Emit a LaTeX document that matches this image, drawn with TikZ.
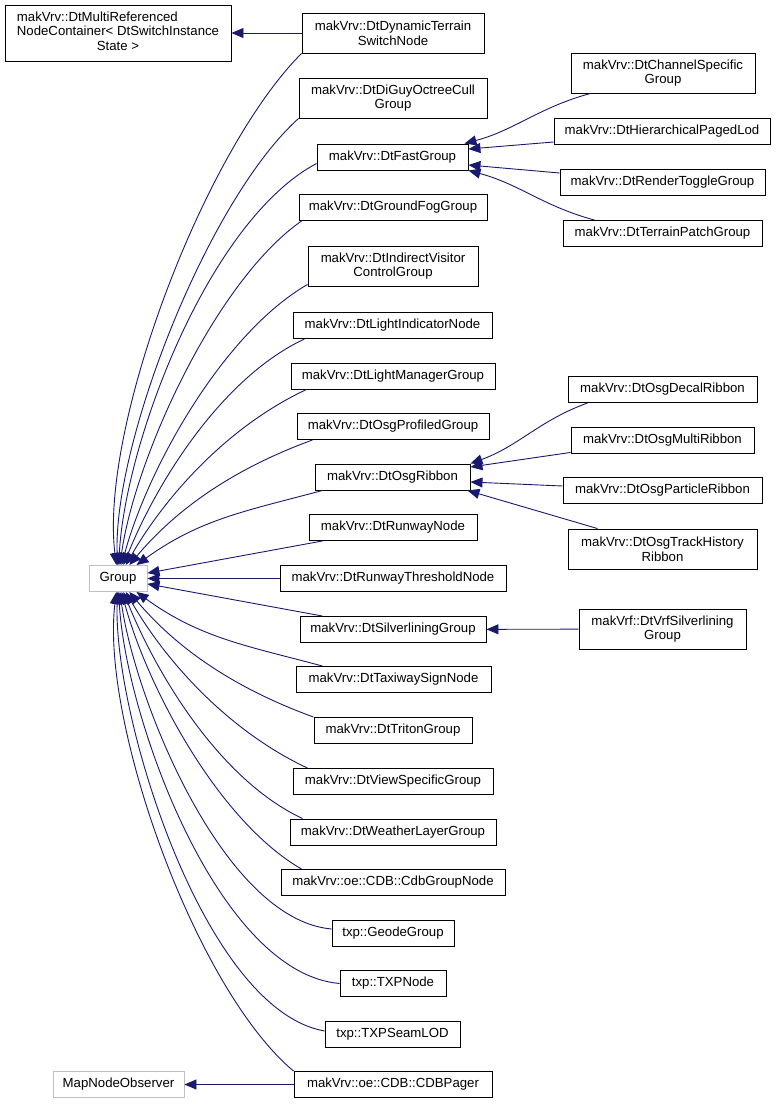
\documentclass[tikz,border=0pt]{standalone}
\usepackage{fontspec}
\newfontfamily\dxsans{Liberation Sans}
\usetikzlibrary{arrows.meta}
\definecolor{edgeblue}{HTML}{191970}
\definecolor{extgray}{HTML}{BFBFBF}
\tikzset{
    my-class/.style={
        draw=black, fill=white, line width=0.9pt, minimum height=26pt,
        inner sep=0pt, align=center, font={\dxsans\fontsize{13.2}{14.8}\selectfont}
    },
    my-class-2/.style={
        my-class, minimum height=40pt
    },
    my-extern/.style={
        my-class, draw=extgray
    },
    my-inherit/.style={
        draw=edgeblue, line width=0.9pt, -{Triangle[length=12pt, width=10pt]}
    },
}

\begin{document}
\begin{tikzpicture}[x=1pt, y=1pt]

        \useasboundingbox (0,0) rectangle (776,-1104);

        % BASE CLASSES
        \node[my-class, minimum width=226pt, minimum height=56pt] (MULTIREF) at (118,-33)
            {\begin{tabular}{@{}l@{}}makVrv::DtMultiReferenced\\NodeContainer< DtSwitchInstance\\\multicolumn{1}{@{}c@{}}{State >}\end{tabular}};
        \node[my-extern, minimum width=58pt]  (GROUP)   at (118,-578.5)  {Group};
        \node[my-extern, minimum width=131pt] (MAPNODE) at (118.5,-1084.5) {MapNodeObserver};

        % MIDDLE COLUMN
        \node[my-class-2, minimum width=182pt] (DYNTERRAIN)   at (393,-33)     {makVrv::DtDynamicTerrain\\SwitchNode};
        \node[my-class-2, minimum width=188pt] (DIGUY)        at (393,-98)     {makVrv::DtDiGuyOctreeCull\\Group};
        \node[my-class,   minimum width=151pt] (FASTGROUP)    at (392.5,-157)  {makVrv::DtFastGroup};
        \node[my-class,   minimum width=188pt] (GROUNDFOG)    at (393,-207.5)  {makVrv::DtGroundFogGroup};
        \node[my-class-2, minimum width=170pt] (INDIRECT)     at (393,-266)    {makVrv::DtIndirectVisitor\\ControlGroup};
        \node[my-class,   minimum width=199pt] (LIGHTIND)     at (392.5,-325.5){makVrv::DtLightIndicatorNode};
        \node[my-class,   minimum width=204pt] (LIGHTMGR)     at (393,-376)    {makVrv::DtLightManagerGroup};
        \node[my-class,   minimum width=192pt] (PROFILED)     at (393,-426.5)  {makVrv::DtOsgProfiledGroup};
        \node[my-class,   minimum width=155pt] (OSGRIBBON)    at (392.5,-477)  {makVrv::DtOsgRibbon};
        \node[my-class,   minimum width=168pt] (RUNWAY)       at (393,-527.5)  {makVrv::DtRunwayNode};
        \node[my-class,   minimum width=226pt] (THRESHOLD)    at (393,-578.5)  {makVrv::DtRunwayThresholdNode};
        \node[my-class,   minimum width=186pt] (SILVERLINING) at (393,-629.5)  {makVrv::DtSilverliningGroup};
        \node[my-class,   minimum width=195pt] (TAXIWAY)      at (393.5,-679.5){makVrv::DtTaxiwaySignNode};
        \node[my-class,   minimum width=158pt] (TRITON)       at (393,-730.5)  {makVrv::DtTritonGroup};
        \node[my-class,   minimum width=200pt] (VIEWSPEC)     at (393,-781.5)  {makVrv::DtViewSpecificGroup};
        \node[my-class,   minimum width=206pt] (WEATHER)      at (393,-832)    {makVrv::DtWeatherLayerGroup};
        \node[my-class,   minimum width=224pt] (CDBGROUP)     at (393,-882.5)  {makVrv::oe::CDB::CdbGroupNode};
        \node[my-class,   minimum width=122pt] (GEODE)        at (393,-933)    {txp::GeodeGroup};
        \node[my-class,   minimum width=106pt] (TXPNODE)      at (393,-983.5)  {txp::TXPNode};
        \node[my-class,   minimum width=135pt] (SEAMLOD)      at (392.5,-1034) {txp::TXPSeamLOD};
        \node[my-class,   minimum width=198pt] (CDBPAGER)     at (393,-1084.5) {makVrv::oe::CDB::CDBPager};

        % RIGHT COLUMN
        \node[my-class-2, minimum width=184pt] (CHANNEL)   at (663,-73)      {makVrv::DtChannelSpecific\\Group};
        \node[my-class,   minimum width=216pt] (HIER)      at (662,-131.5)   {makVrv::DtHierarchicalPagedLod};
        \node[my-class,   minimum width=205pt] (RENDER)    at (662.5,-182.5) {makVrv::DtRenderToggleGroup};
        \node[my-class,   minimum width=199pt] (TERRAIN)   at (662.5,-233.5) {makVrv::DtTerrainPatchGroup};
        \node[my-class,   minimum width=189pt] (DECAL)     at (662.5,-389.5) {makVrv::DtOsgDecalRibbon};
        \node[my-class,   minimum width=183pt] (MULTI)     at (662.5,-440)   {makVrv::DtOsgMultiRibbon};
        \node[my-class,   minimum width=199pt] (PARTICLE)  at (662.5,-490.5) {makVrv::DtOsgParticleRibbon};
        \node[my-class-2, minimum width=189pt] (TRACK)     at (662.5,-549)   {makVrv::DtOsgTrackHistory\\Ribbon};
        \node[my-class-2, minimum width=167pt] (VRFSILVER) at (662.5,-629)   {makVrf::DtVrfSilverlining\\Group};

        % STRAIGHT INHERITANCE
        \draw[my-inherit] (DYNTERRAIN) -- (MULTIREF);
        \draw[my-inherit] (CDBPAGER)   -- (MAPNODE);
        \draw[my-inherit] (VRFSILVER)  -- (SILVERLINING);

        % CHILDREN OF FASTGROUP
        \draw[my-inherit] ([xshift=20pt]CHANNEL.south west) to[out=195, in=15] ([xshift=-4pt]FASTGROUP.north east);
        \draw[my-inherit] ([yshift=-10.5pt]HIER.west)  -- ([yshift=8pt]FASTGROUP.east);
        \draw[my-inherit] ([yshift=9.5pt]RENDER.west)  -- ([yshift=-8pt]FASTGROUP.east);
        \draw[my-inherit] ([xshift=32pt]TERRAIN.north west) to[out=165, in=-15] (FASTGROUP.south east);

        % CHILDREN OF OSGRIBBON
        \draw[my-inherit] ([xshift=20pt]DECAL.south west) to[out=200, in=20] (OSGRIBBON.north east);
        \draw[my-inherit] ([yshift=1pt]MULTI.south west)  -- ([yshift=10pt]OSGRIBBON.east);
        \draw[my-inherit] ([yshift=4.5pt]PARTICLE.west)   -- ([yshift=-5pt]OSGRIBBON.east);
        \draw[my-inherit] ([xshift=30pt]TRACK.north west) -- ([xshift=-3pt]OSGRIBBON.south east);

        % CHILDREN OF GROUP - UPPER HALF
        \draw[my-inherit] (DYNTERRAIN.south west)            to[out=225, in=97, looseness=0.65] (GROUP);
        \draw[my-inherit] (DIGUY.south west)                 to[out=222, in=92, looseness=0.65] (GROUP);
        \draw[my-inherit] ([yshift=7pt]FASTGROUP.south west) to[out=208, in=87, looseness=0.7]  (GROUP);
        \draw[my-inherit] ([xshift=3pt]GROUNDFOG.south west) to[out=215, in=82, looseness=0.7]  (GROUP);
        \draw[my-inherit] ([yshift=2pt]INDIRECT.south west)  to[out=210, in=75, looseness=0.75] (GROUP);
        \draw[my-inherit] ([xshift=12pt]LIGHTIND.south west) to[out=205, in=68, looseness=0.8]  (GROUP);
        \draw[my-inherit] ([xshift=16pt]LIGHTMGR.south west) to[out=205, in=60, looseness=0.85] (GROUP);
        \draw[my-inherit] ([xshift=16pt]PROFILED.south west) to[out=200, in=50, looseness=0.9]  (GROUP);
        \draw[my-inherit] ([xshift=8pt]OSGRIBBON.south west) to[out=195, in=36]  (GROUP);
        \draw[my-inherit] ([xshift=14pt]RUNWAY.south west)   -- (GROUP);
        \draw[my-inherit] (THRESHOLD) -- (GROUP);

        % CHILDREN OF GROUP - LOWER HALF
        \draw[my-inherit] ([xshift=23pt]SILVERLINING.north west) -- (GROUP);
        \draw[my-inherit] ([xshift=27pt]TAXIWAY.north west)  to[out=165, in=-36]  (GROUP);
        \draw[my-inherit] (TRITON.north west)                to[out=160, in=-50, looseness=0.9]  (GROUP);
        \draw[my-inherit] ([xshift=15pt]VIEWSPEC.north west) to[out=155, in=-60, looseness=0.85] (GROUP);
        \draw[my-inherit] ([xshift=13pt]WEATHER.north west)  to[out=155, in=-68, looseness=0.8]  (GROUP);
        \draw[my-inherit] ([xshift=21pt]CDBGROUP.north west) to[out=150, in=-75, looseness=0.75] (GROUP);
        \draw[my-inherit] ([yshift=4pt]GEODE.west)           to[out=175, in=-82, looseness=0.7]  (GROUP);
        \draw[my-inherit] (TXPNODE.west)                     to[out=175, in=-87, looseness=0.7]  (GROUP);
        \draw[my-inherit] ([yshift=3pt]SEAMLOD.west)         to[out=170, in=-92, looseness=0.65] (GROUP);
        \draw[my-inherit] (CDBPAGER.north west)              to[out=140, in=-97, looseness=0.65] (GROUP);

    \end{tikzpicture}
\end{document}
